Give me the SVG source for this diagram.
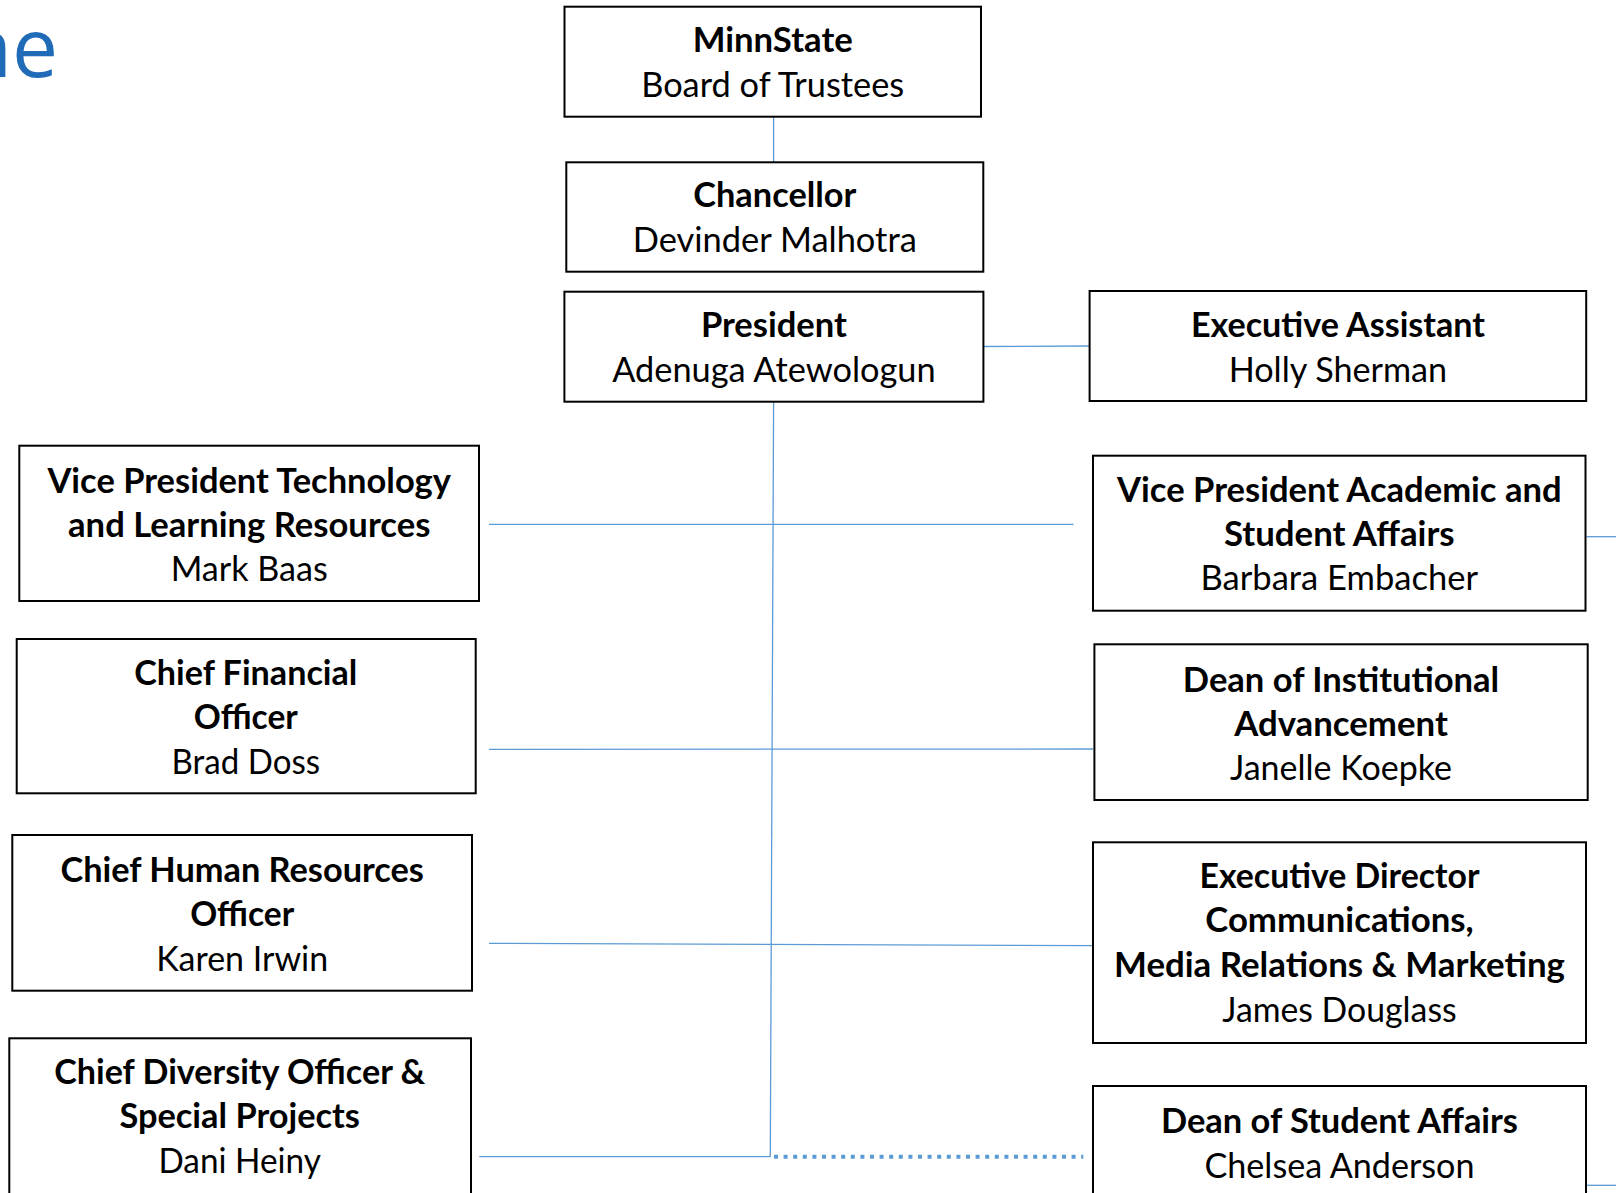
<svg xmlns="http://www.w3.org/2000/svg" width="1616" height="1193" viewBox="0 0 1616 1193">
<style>
.box{fill:#fff;stroke:#000;stroke-width:2}
.b{font-family:Lato,"Open Sans",sans-serif;font-weight:700;font-size:35px;fill:#000;text-anchor:middle}
.r{font-family:Lato,"Open Sans",sans-serif;font-weight:400;font-size:35px;fill:#000;text-anchor:middle}
.c{fill:none;stroke:#5b9bd5;stroke-width:1.3}
.d{fill:none;stroke:#5b9bd5;stroke-width:4;stroke-dasharray:4 5.6}
.title{font-family:"Open Sans",Lato,sans-serif;font-size:82px;fill:#1f6bb8;text-anchor:end}
</style>
<rect width="1616" height="1193" fill="#fff"/>
<text class="title" x="58" y="77">ne</text>
<g id="connectors">
<line class="c" x1="773.6" y1="116.7" x2="773.6" y2="162.3"/>
<line class="c" x1="983.4" y1="346.5" x2="1089.6" y2="346"/>
<line class="c" x1="773.6" y1="401.7" x2="770.3" y2="1156.7"/>
<line class="c" x1="489" y1="524.3" x2="1073.5" y2="524.3"/>
<line class="c" x1="489" y1="749.3" x2="1093" y2="749"/>
<line class="c" x1="489" y1="943.3" x2="1092.7" y2="945.7"/>
<line class="c" x1="479.3" y1="1156.7" x2="770.3" y2="1156.7"/>
<line class="d" x1="774" y1="1156.7" x2="1083.3" y2="1156.7"/>
<line class="c" x1="1586.5" y1="536.7" x2="1616" y2="536.7"/>
<line class="c" x1="1587" y1="1185.3" x2="1616" y2="1185.3"/>
</g>
<g id="minnstate">
<rect class="box" x="564.5" y="6.7" width="416.5" height="110"/>
<text class="b" x="772.7" y="52" textLength="160" lengthAdjust="spacingAndGlyphs">MinnState</text>
<text class="r" x="772.7" y="97" textLength="263" lengthAdjust="spacingAndGlyphs">Board of Trustees</text>
</g>
<g id="chancellor">
<rect class="box" x="566.3" y="162.3" width="417" height="109.4"/>
<text class="b" x="774.8" y="206.5" textLength="163" lengthAdjust="spacingAndGlyphs">Chancellor</text>
<text class="r" x="774.8" y="251.5" textLength="284" lengthAdjust="spacingAndGlyphs">Devinder Malhotra</text>
</g>
<g id="president">
<rect class="box" x="564.4" y="291.7" width="419" height="110"/>
<text class="b" x="773.9" y="336.5" textLength="146" lengthAdjust="spacingAndGlyphs">President</text>
<text class="r" x="773.9" y="381.5" textLength="323.5" lengthAdjust="spacingAndGlyphs">Adenuga Atewologun</text>
</g>
<g id="exec-assistant">
<rect class="box" x="1089.6" y="291" width="496.6" height="110"/>
<text class="b" x="1337.9" y="336.5" textLength="294" lengthAdjust="spacingAndGlyphs">Executive Assistant</text>
<text class="r" x="1337.9" y="381.5" textLength="218.5" lengthAdjust="spacingAndGlyphs">Holly Sherman</text>
</g>
<g id="vp-academic">
<rect class="box" x="1093" y="455.7" width="492.5" height="155"/>
<text class="b" x="1339.3" y="501.5" textLength="444.5" lengthAdjust="spacingAndGlyphs">Vice President Academic and</text>
<text class="b" x="1339.3" y="545.5" textLength="230.7" lengthAdjust="spacingAndGlyphs">Student Affairs</text>
<text class="r" x="1339.3" y="590" textLength="277.5" lengthAdjust="spacingAndGlyphs">Barbara Embacher</text>
</g>
<g id="dean-advancement">
<rect class="box" x="1094.4" y="644.3" width="493.3" height="155.7"/>
<text class="b" x="1341" y="691.5" textLength="316.3" lengthAdjust="spacingAndGlyphs">Dean of Institutional</text>
<text class="b" x="1341" y="735.5" textLength="213.7" lengthAdjust="spacingAndGlyphs">Advancement</text>
<text class="r" x="1341" y="780" textLength="222" lengthAdjust="spacingAndGlyphs">Janelle Koepke</text>
</g>
<g id="exec-director">
<rect class="box" x="1093" y="842.3" width="493" height="200.7"/>
<text class="b" x="1339.5" y="888.2" textLength="280" lengthAdjust="spacingAndGlyphs">Executive Director</text>
<text class="b" x="1339.5" y="932.2" textLength="268.5" lengthAdjust="spacingAndGlyphs">Communications,</text>
<text class="b" x="1339.5" y="976.5" textLength="451" lengthAdjust="spacingAndGlyphs">Media Relations &amp; Marketing</text>
<text class="r" x="1339.5" y="1021.5" textLength="234.3" lengthAdjust="spacingAndGlyphs">James Douglass</text>
</g>
<g id="dean-student-affairs">
<rect class="box" x="1093" y="1086" width="493" height="150"/>
<text class="b" x="1339.5" y="1133" textLength="357" lengthAdjust="spacingAndGlyphs">Dean of Student Affairs</text>
<text class="r" x="1339.5" y="1178" textLength="270" lengthAdjust="spacingAndGlyphs">Chelsea Anderson</text>
</g>
<g id="vp-technology">
<rect class="box" x="19.3" y="445.7" width="459.7" height="155.3"/>
<text class="b" x="249.2" y="492.5" textLength="403.5" lengthAdjust="spacingAndGlyphs">Vice President Technology</text>
<text class="b" x="249.2" y="536.5" textLength="362.3" lengthAdjust="spacingAndGlyphs">and Learning Resources</text>
<text class="r" x="249.2" y="580.5" textLength="157" lengthAdjust="spacingAndGlyphs">Mark Baas</text>
</g>
<g id="cfo">
<rect class="box" x="16.7" y="639" width="459" height="154.3"/>
<text class="b" x="245.8" y="684.5" textLength="223" lengthAdjust="spacingAndGlyphs">Chief Financial</text>
<text class="b" x="245.8" y="728.5" textLength="104" lengthAdjust="spacingAndGlyphs">Officer</text>
<text class="r" x="245.8" y="773.5" textLength="148.5" lengthAdjust="spacingAndGlyphs">Brad Doss</text>
</g>
<g id="chro">
<rect class="box" x="12.3" y="835" width="459.7" height="155.7"/>
<text class="b" x="242.2" y="881.5" textLength="363.5" lengthAdjust="spacingAndGlyphs">Chief Human Resources</text>
<text class="b" x="242.2" y="925.5" textLength="104" lengthAdjust="spacingAndGlyphs">Officer</text>
<text class="r" x="242.2" y="970.8" textLength="172" lengthAdjust="spacingAndGlyphs">Karen Irwin</text>
</g>
<g id="cdo">
<rect class="box" x="9.3" y="1038.3" width="461.7" height="160"/>
<text class="b" x="239.7" y="1083.5" textLength="371" lengthAdjust="spacingAndGlyphs">Chief Diversity Officer &amp;</text>
<text class="b" x="239.7" y="1127.5" textLength="240.5" lengthAdjust="spacingAndGlyphs">Special Projects</text>
<text class="r" x="239.7" y="1173" textLength="162.5" lengthAdjust="spacingAndGlyphs">Dani Heiny</text>
</g>
</svg>
